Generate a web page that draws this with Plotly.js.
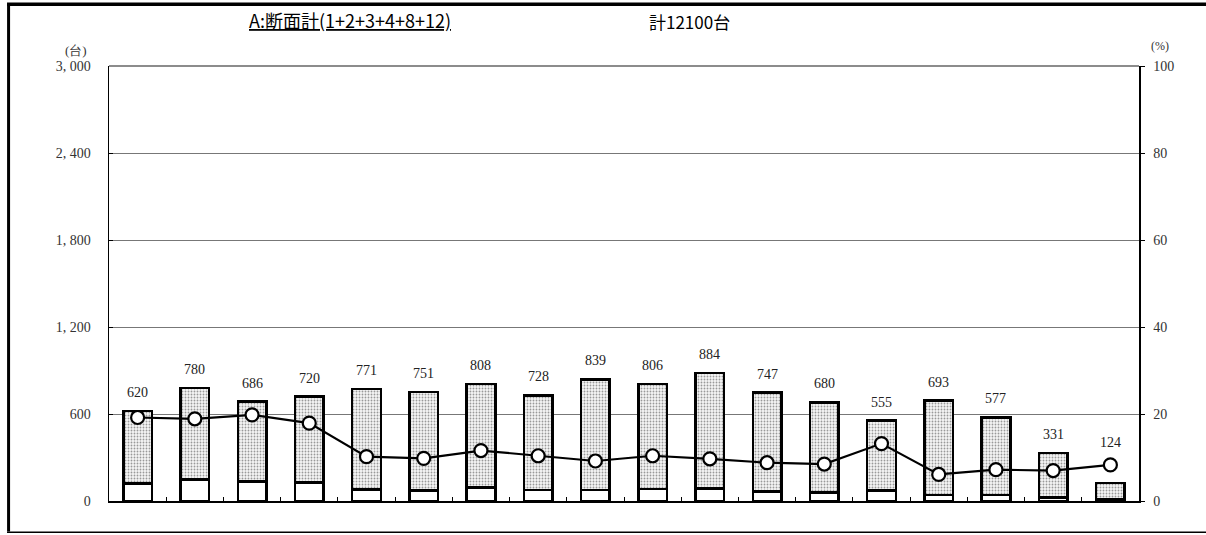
<!DOCTYPE html>
<html>
<head>
<meta charset="utf-8">
<script src="https://cdn.plot.ly/plotly-3.0.1.min.js"></script>
<style>html,body{margin:0;padding:0;background:#fff;}#chart{width:1206px;height:535px;}</style>
</head>
<body>
<div id="chart"></div>
<script>
// Data
const categories = ["1","2","3","4","5","6","7","8","9","10","11","12","13","14","15","16","17","18"];
const totals = [620, 780, 686, 720, 771, 751, 808, 728, 839, 806, 884, 747, 680, 555, 693, 577, 331, 124];
const largeVehicles = [119, 147, 136, 129, 79, 74, 94, 76, 77, 84, 86, 66, 58, 73, 42, 42, 23, 10];
const largeRatio = [19.2, 18.9, 19.8, 17.9, 10.2, 9.8, 11.6, 10.4, 9.2, 10.4, 9.7, 8.8, 8.5, 13.2, 6.1, 7.2, 7.0, 8.3];
const leftTicks = [0, 600, 1200, 1800, 2400, 3000];
const leftTickText = ["0", "600", "1, 200", "1, 800", "2, 400", "3, 000"];
const rightTicks = [0, 20, 40, 60, 80, 100];
const titleText = "A:断面計(1+2+3+4+8+12)";
const totalText = "計12100台";

const smallVehicles = totals.map((t, i) => t - largeVehicles[i]);

const serif = "Liberation Serif, DejaVu Serif, serif";
const gothic = "Noto Sans CJK JP, Noto Sans, sans-serif";

const traces = [
  {
    type: "bar", x: categories, y: largeVehicles, name: "大型車",
    marker: { color: "#ffffff", line: { color: "#000", width: 2.5 } },
    hoverinfo: "skip"
  },
  {
    type: "bar", x: categories, y: smallVehicles, name: "小型車",
    marker: {
      color: "#f2f2f2",
      line: { color: "#000", width: 2.5 },
      pattern: { shape: ".", fgcolor: "#999", bgcolor: "#f6f6f6", size: 3, solidity: 0.3 }
    },
    hoverinfo: "skip"
  },
  {
    type: "scatter", mode: "lines+markers", x: categories, y: largeRatio, yaxis: "y2",
    name: "大型車混入率",
    line: { color: "#000", width: 2.2 },
    marker: { symbol: "circle", size: 13, color: "#fff", line: { color: "#000", width: 2.2 } },
    hoverinfo: "skip"
  }
];

// label sits above the bar, or above the ratio marker if that is higher (y2 scale: 100% = 3000)
const annotations = totals.map((t, i) => ({
  x: i, y: Math.max(t, largeRatio[i] * 30 + 30), xref: "x", yref: "y",
  text: String(t), showarrow: false, yanchor: "bottom", yshift: 9,
  font: { family: serif, size: 14, color: "#222" }
}));
annotations.push(
  { xref: "paper", yref: "paper", x: 0.234, y: 1.105, text: "<u>" + titleText + "</u>", showarrow: false,
    xanchor: "center", yanchor: "middle", font: { family: gothic, size: 18, color: "#000" } },
  { xref: "paper", yref: "paper", x: 0.564, y: 1.102, text: totalText, showarrow: false,
    xanchor: "center", yanchor: "middle", font: { family: gothic, size: 17, color: "#000" } },
  { xref: "paper", yref: "paper", x: -0.032, y: 1.035, text: "(台)", showarrow: false,
    xanchor: "center", yanchor: "middle", font: { family: serif, size: 13, color: "#333" } },
  { xref: "paper", yref: "paper", x: 1.02, y: 1.045, text: "(%)", showarrow: false,
    xanchor: "center", yanchor: "middle", font: { family: serif, size: 12, color: "#333" } }
);

const shapes = [
  { type: "line", xref: "paper", yref: "paper", x0: 0, x1: 1, y0: 1, y1: 1, line: { color: "#666", width: 1.5 } },
  { type: "line", xref: "paper", yref: "paper", x0: -0.0975, x1: -0.0975, y0: -0.07, y1: 1.142, line: { color: "#000", width: 3 } },
  { type: "line", xref: "paper", yref: "paper", x0: -0.099, x1: 1.1, y0: 1.142, y1: 1.142, line: { color: "#000", width: 3.5 } },
  { type: "line", xref: "paper", yref: "paper", x0: -0.099, x1: 1.1, y0: -0.072, y1: -0.072, line: { color: "#000", width: 1.5 } }
];

const layout = {
  width: 1206, height: 535,
  margin: { l: 109, r: 67, t: 66, b: 34 },
  paper_bgcolor: "#fff", plot_bgcolor: "#fff",
  showlegend: false,
  barmode: "stack", bargap: 0.5,
  xaxis: {
    type: "category", showticklabels: false, ticks: "inside", ticklen: 4, tickcolor: "#000",
    tickson: "boundaries", showline: true, linecolor: "#000", linewidth: 1.5, showgrid: false,
    range: [-0.5, 17.5], zeroline: false
  },
  yaxis: {
    range: [0, 3000], tickvals: leftTicks, ticktext: leftTickText,
    showgrid: true, gridcolor: "#777", gridwidth: 1,
    showline: true, linecolor: "#000", linewidth: 1.5,
    ticks: "inside", ticklen: 4, tickcolor: "#000",
    ticklabelstandoff: 14, zeroline: false,
    tickfont: { family: serif, size: 14, color: "#333" }
  },
  yaxis2: {
    range: [0, 100], tickvals: rightTicks, overlaying: "y", side: "right",
    showgrid: false, showline: true, linecolor: "#000", linewidth: 1.5,
    ticks: "outside", ticklen: 4, tickcolor: "#000", ticklabelstandoff: 6, zeroline: false,
    tickfont: { family: serif, size: 14, color: "#333" }
  },
  annotations: annotations,
  shapes: shapes
};

Plotly.newPlot("chart", traces, layout, { staticPlot: true, displayModeBar: false });
</script>
</body>
</html>
